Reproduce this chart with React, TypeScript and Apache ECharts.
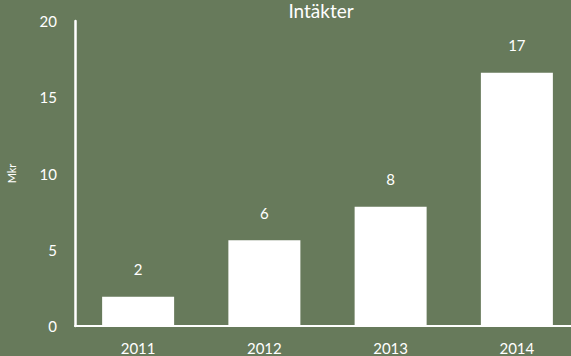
import React, { useEffect, useRef } from "react";
import * as echarts from "echarts";

const categories = ["2011", "2012", "2013", "2014"];
const values = [1.92, 5.62, 7.82, 16.61];
const yTicks = { min: 0, max: 20, interval: 5 };
const title = "Intäkter";
const yName = "Mkr";

export default function App() {
  const ref = useRef<HTMLDivElement>(null);
  useEffect(() => {
    if (!ref.current) return;
    const chart = echarts.init(ref.current, null, { renderer: "svg" });
    const font = "Lato, 'Open Sans', sans-serif";
    chart.setOption({
      animation: false,
      backgroundColor: "#677A5B",
      textStyle: { fontFamily: font },
      title: {
        text: title,
        left: 316,
        textAlign: "center",
        top: -4,
        textStyle: { color: "#fff", fontSize: 19, fontWeight: "normal", fontFamily: font },
      },
      grid: { left: 75, top: 21, width: 505, bottom: 30, outerBoundsMode: "none", containLabel: false },
      xAxis: {
        type: "category",
        data: categories,
        axisLine: { lineStyle: { color: "#fff", width: 2 } },
        axisTick: { show: false },
        axisLabel: { color: "#fff", fontSize: 15, margin: 14, fontFamily: font },
      },
      yAxis: {
        type: "value",
        min: yTicks.min,
        max: yTicks.max,
        interval: yTicks.interval,
        name: yName,
        nameLocation: "middle",
        nameGap: 58,
        nameRotate: 90,
        nameTextStyle: { color: "#fff", fontSize: 11, fontFamily: font },
        axisLine: { show: true, lineStyle: { color: "#fff", width: 2.5 } },
        axisTick: { show: false },
        splitLine: { show: false },
        axisLabel: { color: "#fff", fontSize: 15, margin: 18, fontFamily: font },
      },
      series: [
        {
          type: "bar",
          data: values,
          barWidth: 72,
          itemStyle: { color: "#fff" },
          label: {
            show: true,
            position: "top",
            distance: 20,
            color: "#fff",
            fontSize: 15,
            fontFamily: font,
            formatter: (p: any) => String(Math.round(p.value)),
          },
        },
      ],
    });
    return () => chart.dispose();
  }, []);
  return (
    <div
      ref={ref}
      style={{ position: "fixed", left: 0, top: 0, width: 571, height: 356 }}
    />
  );
}
